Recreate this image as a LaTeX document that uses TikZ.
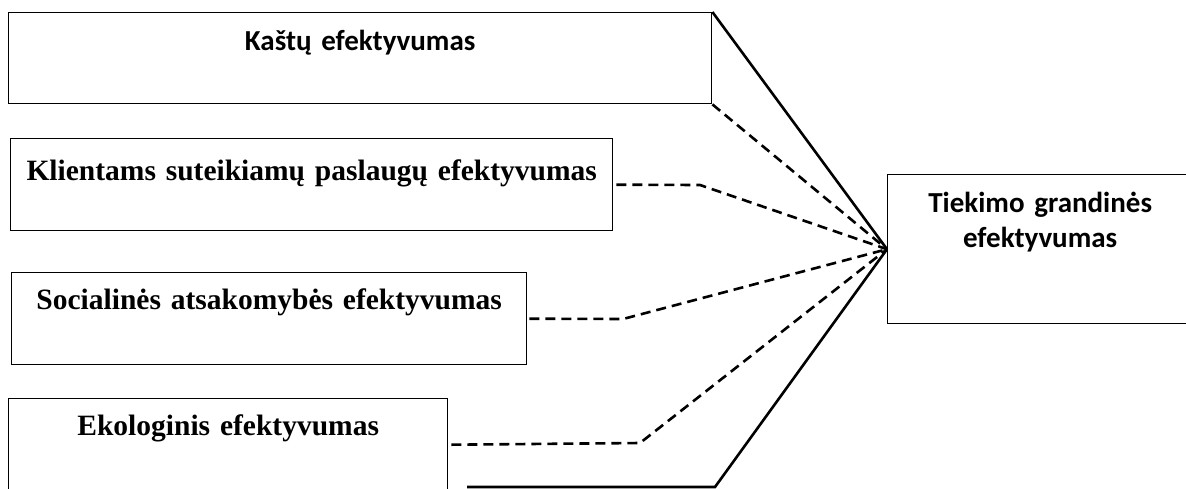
\documentclass[tikz,border=0pt]{standalone}
\usepackage{fontspec}
\setmainfont{Liberation Serif}
\newfontfamily\carlito{Carlito}
\begin{document}
\begin{tikzpicture}[x=1pt,y=-1pt,
  box/.style={draw, line width=1.4pt, rectangle, inner sep=0pt, anchor=north west,
    align=center, text height=#1},
  box/.default=38pt,
  serif/.style={font=\fontsize{29.5}{35}\selectfont\bfseries},
  sans/.style={font=\fontsize{29}{35}\selectfont\carlito\bfseries},
  link/.style={line width=2.6pt, line join=miter},
  dlink/.style={link, dash pattern=on 10pt off 6pt}]
\useasboundingbox (0,0) rectangle (1186,488);

% factor boxes on the left
\node[box, sans, text width=703pt, text depth=53pt] (k1) at (8,12) {Kaštų efektyvumas};
\node[box=42pt, serif, text width=602pt, text depth=50pt] (k2) at (10,138) {Klientams suteikiamų paslaugų efektyvumas};
\node[box=37pt, serif, text width=515pt, text depth=55pt] (k3) at (11,272) {Socialinės atsakomybės efektyvumas};
\node[box=37pt, serif, text width=439pt, text depth=55pt] (k4) at (8,398) {Ekologinis efektyvumas};

% result box on the right
\node[box, sans, text width=305pt, text depth=111pt] (t) at (887,174) {Tiekimo grandinės\\efektyvumas};

% bends of the connectors
\coordinate (b2) at (700,185);
\coordinate (b3) at (623,319);
\coordinate (b4) at (640,443);
\coordinate (b5s) at (467,487);
\coordinate (b5) at (715,487);

\draw[link] (k1.north east) -- (t.west);
\draw[dlink] (k1.south east) -- (t.west);
\draw[dlink] ([xshift=3pt]k2.east) -- (b2) -- (t.west);
\draw[dlink] ([xshift=2pt]k3.east) -- (b3) -- (t.west);
\draw[dlink] ([xshift=3pt]k4.east) -- (b4) -- (t.west);
\draw[link] (b5s) -- (b5) -- (t.west);
\end{tikzpicture}
\end{document}
